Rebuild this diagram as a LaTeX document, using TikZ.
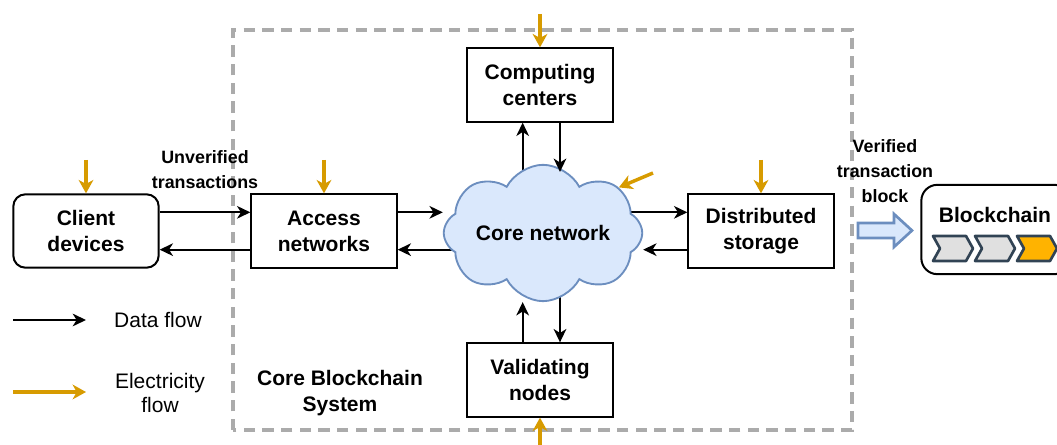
\documentclass[tikz,border=0pt]{standalone}
\usepackage{fontspec}
\setmainfont{Liberation Sans}
\usetikzlibrary{arrows.meta,shapes.symbols,backgrounds}

\definecolor{elecorange}{HTML}{D79B00}
\definecolor{cloudfill}{HTML}{DAE8FC}
\definecolor{cloudline}{HTML}{6C8EBF}
\definecolor{chainline}{HTML}{314354}
\definecolor{chaingrey}{HTML}{E0E0E0}
\definecolor{chaingold}{HTML}{FFB300}
\definecolor{framegrey}{HTML}{ABABAB}

\begin{document}
\begin{tikzpicture}[x=0.75pt, y=0.75pt,
        unit/.style = {shape=rectangle, draw, align=center,
          line width=1.5pt, inner sep=0pt,
          minimum width=109pt, minimum height=55pt,
          font=\fontsize{15.75}{19.5}\selectfont\bfseries},
        client/.style = {unit, rounded corners=9pt},
        chainbox/.style = {unit, rounded corners=12pt,
          minimum width=112pt, minimum height=67pt},
        core/.style = {shape=cloud, draw=cloudline, fill=cloudfill,
          line width=1.4pt, cloud puffs=8, cloud puff arc=125,
          aspect=1.9, inner sep=0pt,
          minimum width=148pt, minimum height=80pt,
          font=\fontsize{15.75}{19.5}\selectfont\bfseries},
        plain/.style = {align=center,
          font=\fontsize{15.75}{19.5}\selectfont\bfseries},
        caption/.style = {align=center,
          font=\fontsize{13.4}{18.75}\selectfont\bfseries},
        legend/.style = {align=center,
          font=\fontsize{15.75}{18}\selectfont},
        data/.style = {draw, line width=1.4pt,
          -{Stealth[length=10pt,width=9.5pt,inset=3pt]}},
        power/.style = {draw=elecorange, line width=2.6pt,
          -{Stealth[length=10pt,width=11pt,inset=3pt]}},
        frame/.style = {draw=framegrey, line width=2.6pt,
          dash pattern=on 8.5pt off 5.5pt},
        chevron/.style = {draw=chainline, line width=2pt, line join=round},
        blockarrow/.style = {draw=cloudline, fill=cloudfill,
          line width=2pt, line join=miter}]
  \useasboundingbox (0,0) rectangle (1057,445);
  \clip (0,0) rectangle (1057,445);

  % core system frame
  \draw[frame] (233,15) rectangle (852,415);

  \node[client] (cli) at (86,214) {Client\\devices};
  \node[unit] (acc) at (324,214) {Access\\networks};
  \node[core] (cl) at (543,212) {Core network};
  \node[unit] (sto) at (761,214) {Distributed\\storage};
  \node[unit] (comp) at (540,360) {Computing\\centers};
  \node[unit] (val) at (540,65) {Validating\\nodes};
  \node[plain] (sys) at (340,52) {Core Blockchain\\System};

  \node[caption] (unver) at (205,275) {Unverified\\transactions};
  \node[caption] (ver) at (885,274) {Verified\\transaction\\block};

  % blockchain
  \node[chainbox] (bc) at (996,215.5) {};
  \node[plain] (bctitle) at (995,230) {Blockchain};
  \foreach \cx/\cc in {933/chaingrey,975/chaingrey,1017/chaingold}
    \draw[chevron, fill=\cc] (\cx,209) -- ++(33,0) -- ++(7,-12.5)
      -- ++(-7,-12.5) -- ++(-33,0) -- ++(7,12.5) -- cycle;
  \draw[blockarrow] (858,207) -- (894,207) -- (894,198) -- (912,214.5)
    -- (894,231) -- (894,222) -- (858,222) -- cycle;

  % data flow
  \draw[data] ([yshift=14pt]cli.east) -- ([yshift=14pt]acc.west);
  \draw[data] ([yshift=-14pt]acc.west) -- ([yshift=-14pt]cli.east);
  \draw[data] ([yshift=14pt]acc.east) -- ([yshift=14pt]acc.east -| cl.west);
  \draw[data] ([yshift=-14pt]sto.west) -- ([yshift=-14pt]sto.west -| cl.east);
  \draw[data] ([xshift=15pt]comp.south) -- ([xshift=15pt,yshift=-6pt]comp.south |- cl.north);
  \draw[data] ([xshift=-13pt]val.north) -- ([xshift=-13pt]val.north |- cl.south);
  \begin{scope}[on background layer]
    \draw[data] ([yshift=-14pt]acc.east -| cl.center) -- ([yshift=-14pt]acc.east);
    \draw[data] ([yshift=14pt]sto.west -| cl.center) -- ([yshift=14pt]sto.west);
    \draw[data] ([xshift=-13pt]comp.south |- cl.center) -- ([xshift=-13pt]comp.south);
    \draw[data] ([xshift=15pt]val.north |- cl.center) -- ([xshift=15pt]val.north);
  \end{scope}

  % electricity flow
  \draw[power] ([yshift=25pt]cli.north) -- (cli.north);
  \draw[power] ([yshift=25pt]acc.north) -- (acc.north);
  \draw[power] ([yshift=25pt]sto.north) -- (sto.north);
  \draw[power] ([yshift=25pt]comp.north) -- (comp.north);
  \draw[power] ([yshift=-22pt]val.south) -- (val.south);
  \coordinate (cltap) at (653,272);
  \draw[power] (cltap) -- (cl.31);

  % legend
  \coordinate (dataA) at (13,125);
  \coordinate (dataB) at (86,125);
  \draw[data] (dataA) -- (dataB);
  \node[legend] (datatxt) at (158,125) {Data flow};
  \coordinate (elecA) at (13,53);
  \coordinate (elecB) at (86,53);
  \draw[power] (elecA) -- (elecB);
  \node[legend] (electxt) at (160,52) {Electricity\\flow};
\end{tikzpicture}
\end{document}
